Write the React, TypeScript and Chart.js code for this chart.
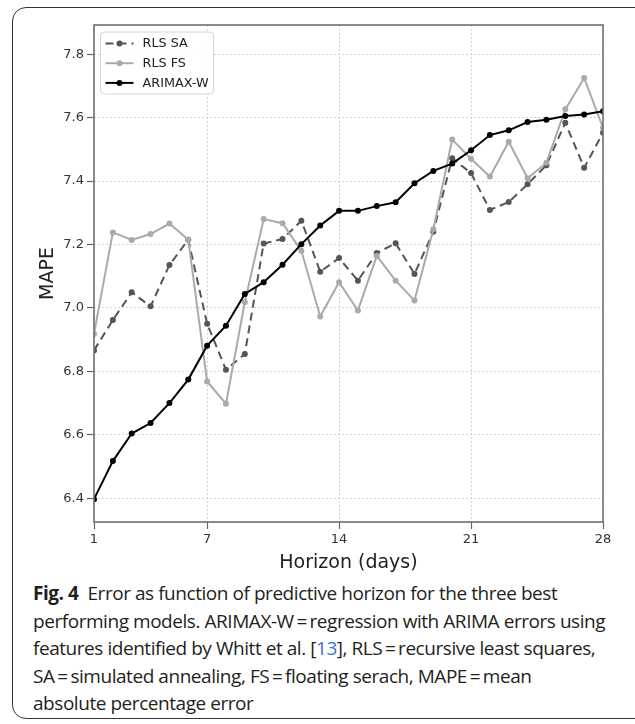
import React, { useEffect, useRef } from "react";
import { Chart, registerables } from "chart.js";

Chart.register(...registerables);

const horizonDays = [1, 2, 3, 4, 5, 6, 7, 8, 9, 10, 11, 12, 13, 14, 15, 16, 17, 18, 19, 20, 21, 22, 23, 24, 25, 26, 27, 28];

const rlsSA = [6.866, 6.962, 7.049, 7.005, 7.135, 7.215, 6.950, 6.805, 6.855, 7.203, 7.217, 7.275, 7.114, 7.157, 7.086, 7.173, 7.204, 7.107, 7.240, 7.472, 7.425, 7.309, 7.334, 7.390, 7.450, 7.584, 7.442, 7.552];

const rlsFS = [6.918, 7.238, 7.214, 7.233, 7.266, 7.215, 6.768, 6.698, 7.018, 7.280, 7.267, 7.180, 6.973, 7.081, 6.992, 7.164, 7.086, 7.023, 7.248, 7.531, 7.470, 7.414, 7.524, 7.409, 7.458, 7.626, 7.725, 7.568];

const arimaxW = [6.397, 6.517, 6.604, 6.637, 6.700, 6.774, 6.881, 6.944, 7.044, 7.081, 7.136, 7.201, 7.260, 7.306, 7.306, 7.321, 7.333, 7.393, 7.432, 7.455, 7.497, 7.545, 7.560, 7.586, 7.593, 7.605, 7.610, 7.620];

const seriesLabels = ["RLS SA", "RLS FS", "ARIMAX-W"];
const xTickValues = [1, 7, 14, 21, 28];
const yTickValues = [6.4, 6.6, 6.8, 7.0, 7.2, 7.4, 7.6, 7.8];
const xAxisTitle = "Horizon (days)";
const yAxisTitle = "MAPE";

const FONT = "'DejaVu Sans', sans-serif";

const frameAndLegend = {
  id: "frameAndLegend",
  afterDraw(chart: any) {
    const { ctx, chartArea } = chart;
    const { left, top, right, bottom } = chartArea;
    ctx.save();
    ctx.strokeStyle = "#6f6f6f";
    ctx.lineWidth = 1.6;
    ctx.setLineDash([]);
    ctx.strokeRect(left, top, right - left, bottom - top);

    // legend
    const bx = left + 6.5;
    const by = top + 7;
    const bw = 113;
    const bh = 62;
    const r = 4;
    ctx.beginPath();
    ctx.moveTo(bx + r, by);
    ctx.lineTo(bx + bw - r, by);
    ctx.quadraticCurveTo(bx + bw, by, bx + bw, by + r);
    ctx.lineTo(bx + bw, by + bh - r);
    ctx.quadraticCurveTo(bx + bw, by + bh, bx + bw - r, by + bh);
    ctx.lineTo(bx + r, by + bh);
    ctx.quadraticCurveTo(bx, by + bh, bx, by + bh - r);
    ctx.lineTo(bx, by + r);
    ctx.quadraticCurveTo(bx, by, bx + r, by);
    ctx.closePath();
    ctx.fillStyle = "rgba(255,255,255,0.85)";
    ctx.fill();
    ctx.strokeStyle = "#d4d4d4";
    ctx.lineWidth = 1;
    ctx.stroke();

    chart.data.datasets.forEach((ds: any, i: number) => {
      const y = by + 11.5 + i * 19.7;
      const x0 = bx + 5;
      const x1 = bx + 33;
      ctx.beginPath();
      ctx.setLineDash(ds.borderDash || []);
      ctx.strokeStyle = ds.borderColor;
      ctx.lineWidth = ds.borderWidth;
      ctx.moveTo(x0, y);
      ctx.lineTo(x1, y);
      ctx.stroke();
      ctx.setLineDash([]);
      ctx.beginPath();
      ctx.fillStyle = ds.pointBackgroundColor;
      ctx.arc((x0 + x1) / 2, y, 3, 0, Math.PI * 2);
      ctx.fill();
      ctx.fillStyle = "#222222";
      ctx.font = "12.8px " + FONT;
      ctx.textBaseline = "middle";
      ctx.textAlign = "left";
      ctx.fillText(ds.label, bx + 42, y + 0.5);
    });
    ctx.restore();
  },
};

function toPoints(vals: number[]) {
  return horizonDays.map((d, i) => ({ x: d, y: vals[i] }));
}

export default function App() {
  const canvasRef = useRef<HTMLCanvasElement | null>(null);

  useEffect(() => {
    const canvas = canvasRef.current;
    if (!canvas) return;
    const chart = new Chart(canvas, {
      type: "line",
      data: {
        datasets: [
          {
            label: seriesLabels[0],
            data: toPoints(rlsSA),
            borderColor: "#555555",
            backgroundColor: "#555555",
            pointBackgroundColor: "#555555",
            pointBorderWidth: 0,
            pointRadius: 3,
            borderWidth: 2,
            borderDash: [8, 5],
            tension: 0,
            order: 3,
          },
          {
            label: seriesLabels[1],
            data: toPoints(rlsFS),
            borderColor: "#aaaaaa",
            backgroundColor: "#aaaaaa",
            pointBackgroundColor: "#aaaaaa",
            pointBorderWidth: 0,
            pointRadius: 3,
            borderWidth: 2,
            tension: 0,
            order: 2,
          },
          {
            label: seriesLabels[2],
            data: toPoints(arimaxW),
            borderColor: "#000000",
            backgroundColor: "#000000",
            pointBackgroundColor: "#000000",
            pointBorderWidth: 0,
            pointRadius: 3,
            borderWidth: 2,
            tension: 0,
            order: 1,
          },
        ] as any,
      },
      options: {
        animation: false,
        responsive: false,
        maintainAspectRatio: false,
        layout: { padding: { left: 30, right: 32, top: 25, bottom: 0 } },
        plugins: {
          legend: { display: false },
          tooltip: { enabled: false },
        },
        scales: {
          x: {
            type: "linear",
            min: 1,
            max: 28,
            afterBuildTicks: (s: any) => {
              s.ticks = xTickValues.map((v) => ({ value: v }));
            },
            afterFit: (s: any) => {
              s.height = 58;
            },
            ticks: {
              font: { family: FONT, size: 13 },
              color: "#333333",
              padding: 3,
              maxRotation: 0,
              autoSkip: false,
              callback: (v: any) => String(v),
            },
            grid: {
              color: "#d2d2d2",
              lineWidth: 1,
              tickColor: "#666666",
              tickLength: 7,
              tickWidth: 1.2,
              tickBorderDash: [],
            },
            border: { display: false, dash: [2, 2] },
            title: {
              display: true,
              text: xAxisTitle,
              font: { family: FONT, size: 19 },
              color: "#222222",
              padding: { top: 0, bottom: 5.5 },
            },
          },
          y: {
            type: "linear",
            min: 6.325,
            max: 7.892,
            afterBuildTicks: (s: any) => {
              s.ticks = yTickValues.map((v) => ({ value: v }));
            },
            afterFit: (s: any) => {
              s.width = 64;
            },
            ticks: {
              font: { family: FONT, size: 13 },
              color: "#333333",
              padding: 3,
              callback: (v: any) => Number(v).toFixed(1),
            },
            grid: {
              color: "#d2d2d2",
              lineWidth: 1,
              tickColor: "#666666",
              tickLength: 7,
              tickWidth: 1.2,
              tickBorderDash: [],
            },
            border: { display: false, dash: [2, 2] },
            title: {
              display: true,
              text: yAxisTitle,
              font: { family: FONT, size: 19 },
              color: "#222222",
              padding: { top: 6.5, bottom: 0 },
            },
          },
        },
      } as any,
      plugins: [frameAndLegend],
    });
    return () => chart.destroy();
  }, []);

  const eq = "\u2009=\u2009";

  return (
    <div
      style={{
        position: "absolute",
        left: 0,
        top: 0,
        width: 635,
        height: 724,
        overflow: "hidden",
        background: "#ffffff",
      }}
    >
      <div
        style={{
          position: "absolute",
          left: 12,
          top: 7,
          width: 640,
          height: 712,
          border: "1.3px solid #333",
          borderRadius: 14,
          boxSizing: "border-box",
        }}
      />
      <canvas
        ref={canvasRef}
        width={635}
        height={580}
        style={{ position: "absolute", left: 0, top: 0, width: 635, height: 580 }}
      />
      <div
        style={{
          position: "absolute",
          left: 33,
          top: 580,
          fontFamily: "'Open Sans', sans-serif",
          fontSize: 19,
          lineHeight: "27.5px",
          letterSpacing: "-0.45px",
          color: "#231f20",
          whiteSpace: "nowrap",
        }}
      >
        <div>
          <b>Fig. 4</b>&nbsp;&nbsp;Error as function of predictive horizon for the three best
        </div>
        <div>performing models. ARIMAX-W{eq}regression with ARIMA errors using</div>
        <div>
          features identified by Whitt et al. [<span style={{ color: "#3b6fd1" }}>13</span>], RLS{eq}recursive least squares,
        </div>
        <div>
          SA{eq}simulated annealing, FS{eq}floating serach, MAPE{eq}mean
        </div>
        <div>absolute percentage error</div>
      </div>
    </div>
  );
}
